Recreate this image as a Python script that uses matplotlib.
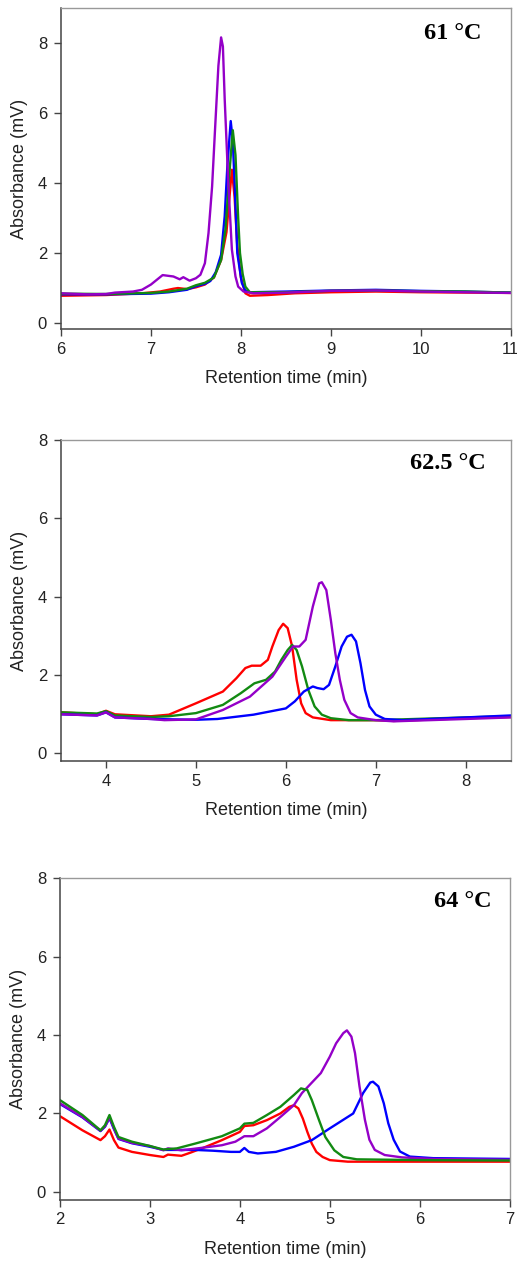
import matplotlib
matplotlib.use("Agg")
import matplotlib.pyplot as plt

# ---------------- Panel 1: 61 °C ----------------
p1_red_x = [6.0, 6.5, 6.9, 7.1, 7.25, 7.3, 7.4, 7.5, 7.6, 7.7, 7.78, 7.84, 7.88, 7.9, 7.93, 7.96, 8.0, 8.05, 8.1, 8.3, 8.6, 9.0, 9.5, 10.0, 10.5, 11.0]
p1_red_y = [0.78, 0.8, 0.85, 0.9, 0.98, 1.0, 0.97, 1.02, 1.1, 1.3, 1.8, 2.6, 3.8, 4.38, 3.6, 2.2, 1.3, 0.85, 0.78, 0.8, 0.85, 0.88, 0.9, 0.88, 0.87, 0.86]

p1_blue_x = [6.0, 6.5, 7.0, 7.2, 7.4, 7.5, 7.6, 7.66, 7.72, 7.78, 7.82, 7.85, 7.887, 7.91, 7.93, 7.96, 8.01, 8.05, 8.1, 8.5, 9.0, 9.5, 10.0, 10.5, 11.0]
p1_blue_y = [0.82, 0.82, 0.84, 0.88, 0.95, 1.05, 1.12, 1.2, 1.45, 1.95, 3.05, 4.5, 5.77, 5.2, 4.0, 2.0, 1.15, 0.92, 0.88, 0.9, 0.93, 0.95, 0.92, 0.9, 0.87]

p1_green_x = [6.0, 6.5, 7.0, 7.2, 7.4, 7.5, 7.6, 7.7, 7.78, 7.83, 7.87, 7.91, 7.94, 7.97, 7.99, 8.02, 8.05, 8.1, 8.5, 9.0, 9.5, 10.0, 10.5, 11.0]
p1_green_y = [0.84, 0.83, 0.86, 0.9, 0.98, 1.08, 1.15, 1.3, 1.8, 2.7, 4.2, 5.51, 4.8, 3.0, 2.0, 1.4, 1.04, 0.88, 0.88, 0.92, 0.93, 0.91, 0.9, 0.87]

p1_purple_x = [6.0, 6.3, 6.5, 6.6, 6.8, 6.9, 7.0, 7.13, 7.25, 7.32, 7.36, 7.43, 7.5, 7.55, 7.6, 7.64, 7.68, 7.71, 7.75, 7.78, 7.80, 7.82, 7.86, 7.9, 7.94, 7.97, 8.03, 8.14, 8.5, 9.0, 9.5, 10.0, 10.5, 11.0]
p1_purple_y = [0.85, 0.82, 0.83, 0.87, 0.9, 0.95, 1.1, 1.37, 1.33, 1.25, 1.31, 1.21, 1.28, 1.38, 1.71, 2.57, 3.9, 5.4, 7.35, 8.16, 7.9, 6.4, 4.0, 2.1, 1.33, 1.04, 0.9, 0.85, 0.87, 0.92, 0.93, 0.9, 0.88, 0.86]

# ---------------- Panel 2: 62.5 °C ----------------
p2_red_x = [3.5, 3.9, 4.0, 4.1, 4.5, 4.7, 5.0, 5.3, 5.45, 5.55, 5.62, 5.72, 5.8, 5.85, 5.92, 5.97, 6.02, 6.07, 6.12, 6.17, 6.22, 6.3, 6.5, 7.0, 7.2, 8.0, 8.5]
p2_red_y = [1.05, 1.0, 1.09, 1.0, 0.95, 0.99, 1.28, 1.58, 1.92, 2.18, 2.24, 2.24, 2.39, 2.73, 3.15, 3.31, 3.2, 2.73, 1.88, 1.28, 1.03, 0.92, 0.85, 0.85, 0.83, 0.9, 0.93]

p2_green_x = [3.5, 3.9, 4.0, 4.1, 4.5, 4.7, 5.0, 5.3, 5.5, 5.65, 5.78, 5.88, 5.95, 6.02, 6.07, 6.12, 6.18, 6.25, 6.32, 6.4, 6.5, 6.7, 7.0, 8.0, 8.5]
p2_green_y = [1.05, 1.02, 1.08, 0.97, 0.93, 0.95, 1.03, 1.24, 1.54, 1.79, 1.88, 2.09, 2.39, 2.64, 2.77, 2.64, 2.22, 1.62, 1.2, 0.99, 0.9, 0.85, 0.85, 0.92, 0.95]

p2_blue_x = [3.5, 3.9, 4.0, 4.1, 4.5, 5.0, 5.24, 5.64, 6.0, 6.1, 6.2, 6.3, 6.35, 6.42, 6.48, 6.55, 6.62, 6.68, 6.73, 6.78, 6.83, 6.88, 6.93, 7.0, 7.1, 7.3, 8.0, 8.5]
p2_blue_y = [1.0, 0.97, 1.05, 0.92, 0.88, 0.86, 0.88, 0.99, 1.15, 1.33, 1.58, 1.71, 1.67, 1.64, 1.75, 2.22, 2.73, 2.98, 3.03, 2.86, 2.3, 1.62, 1.2, 0.99, 0.88, 0.85, 0.92, 0.97]

p2_purple_x = [3.5, 3.9, 4.0, 4.1, 4.5, 4.65, 5.0, 5.3, 5.6, 5.85, 6.0, 6.08, 6.15, 6.22, 6.3, 6.37, 6.4, 6.45, 6.5, 6.55, 6.6, 6.65, 6.72, 6.8, 7.0, 7.2, 8.0, 8.5]
p2_purple_y = [1.0, 0.97, 1.05, 0.92, 0.88, 0.85, 0.87, 1.11, 1.45, 1.96, 2.47, 2.73, 2.73, 2.9, 3.75, 4.34, 4.37, 4.17, 3.41, 2.56, 1.88, 1.37, 1.03, 0.92, 0.85, 0.82, 0.88, 0.92]

# ---------------- Panel 3: 64 °C ----------------
p3_red_x = [2.0, 2.25, 2.45, 2.5, 2.55, 2.6, 2.65, 2.8, 3.0, 3.15, 3.2, 3.35, 3.45, 3.6, 3.8, 4.0, 4.05, 4.15, 4.3, 4.45, 4.55, 4.6, 4.65, 4.7, 4.75, 4.8, 4.85, 4.92, 5.0, 5.2, 6.0, 7.0]
p3_red_y = [1.93, 1.57, 1.32, 1.42, 1.59, 1.32, 1.13, 1.02, 0.94, 0.89, 0.95, 0.92, 1.0, 1.13, 1.32, 1.53, 1.68, 1.70, 1.83, 2.0, 2.17, 2.21, 2.13, 1.87, 1.53, 1.23, 1.02, 0.89, 0.81, 0.77, 0.77, 0.77]

p3_green_x = [2.0, 2.25, 2.45, 2.5, 2.55, 2.6, 2.65, 2.8, 3.0, 3.15, 3.3, 3.5, 3.8, 4.0, 4.05, 4.15, 4.3, 4.45, 4.6, 4.68, 4.75, 4.8, 4.88, 4.95, 5.05, 5.15, 5.3, 6.0, 7.0]
p3_green_y = [2.34, 1.96, 1.57, 1.70, 1.96, 1.66, 1.40, 1.28, 1.17, 1.08, 1.11, 1.23, 1.42, 1.62, 1.74, 1.76, 1.96, 2.17, 2.47, 2.64, 2.6, 2.34, 1.83, 1.40, 1.06, 0.89, 0.83, 0.81, 0.80]

p3_blue_x = [2.0, 2.25, 2.45, 2.5, 2.55, 2.6, 2.65, 2.8, 3.0, 3.15, 3.3, 3.5, 3.7, 3.9, 4.0, 4.05, 4.1, 4.2, 4.4, 4.6, 4.8, 5.0, 5.26, 5.37, 5.45, 5.48, 5.54, 5.6, 5.65, 5.71, 5.78, 5.89, 6.15, 7.0]
p3_blue_y = [2.24, 1.9, 1.55, 1.66, 1.88, 1.6, 1.35, 1.24, 1.15, 1.07, 1.07, 1.07, 1.05, 1.02, 1.02, 1.12, 1.02, 0.98, 1.02, 1.15, 1.32, 1.62, 2.0, 2.52, 2.79, 2.81, 2.69, 2.26, 1.75, 1.33, 1.03, 0.9, 0.86, 0.84]

p3_purple_x = [2.0, 2.25, 2.45, 2.5, 2.55, 2.6, 2.65, 2.8, 3.0, 3.15, 3.2, 3.35, 3.6, 3.8, 3.95, 4.05, 4.15, 4.3, 4.45, 4.6, 4.69, 4.9, 5.0, 5.07, 5.15, 5.19, 5.24, 5.28, 5.33, 5.39, 5.44, 5.5, 5.61, 5.8, 6.15, 7.0]
p3_purple_y = [2.26, 1.91, 1.56, 1.67, 1.9, 1.62, 1.36, 1.25, 1.17, 1.06, 1.11, 1.06, 1.13, 1.19, 1.28, 1.42, 1.42, 1.62, 1.91, 2.21, 2.52, 3.03, 3.45, 3.79, 4.05, 4.12, 3.96, 3.54, 2.69, 1.84, 1.33, 1.07, 0.94, 0.88, 0.84, 0.82]

titles = ["61 °C", "62.5 °C", "64 °C"]
xlims = [(6, 11), (3.5, 8.5), (2, 7)]
ylims = [(-0.17, 9.0), (-0.2, 8.0), (-0.2, 8.0)]
xticks = [[6, 7, 8, 9, 10, 11], [4, 5, 6, 7, 8], [2, 3, 4, 5, 6, 7]]
yticks = [0, 2, 4, 6, 8]

panels = [
    [(p1_red_x, p1_red_y), (p1_blue_x, p1_blue_y), (p1_green_x, p1_green_y), (p1_purple_x, p1_purple_y)],
    [(p2_red_x, p2_red_y), (p2_green_x, p2_green_y), (p2_blue_x, p2_blue_y), (p2_purple_x, p2_purple_y)],
    [(p3_red_x, p3_red_y), (p3_blue_x, p3_blue_y), (p3_purple_x, p3_purple_y), (p3_green_x, p3_green_y)],
]
RED, GREEN, BLUE, PURPLE = "#ff0000", "#128a12", "#0000ff", "#9400c8"
panel_colors = [
    [RED, BLUE, GREEN, PURPLE],
    [RED, GREEN, BLUE, PURPLE],
    [RED, BLUE, PURPLE, GREEN],
]

W, H = 517, 1261
fig = plt.figure(figsize=(W / 100, H / 100), dpi=100)
boxes = [(61, 8, 510.7, 329), (61, 440, 510.7, 761.3), (60, 878.3, 509.7, 1199.7)]
title_pos = [(0.934, 0.922), (0.944, 0.927), (0.96, 0.927)]

for i in range(3):
    l, t, r, b = boxes[i]
    ax = fig.add_axes([l / W, 1 - b / H, (r - l) / W, (b - t) / H])
    for (xs, ys), c in zip(panels[i], panel_colors[i]):
        ax.plot(xs, ys, color=c, lw=1.7, solid_joinstyle="round")
    ax.set_xlim(*xlims[i])
    ax.set_ylim(*ylims[i])
    ax.set_xticks(xticks[i])
    ax.set_yticks(yticks)
    for s in ["top", "right"]:
        ax.spines[s].set_color("#999999")
        ax.spines[s].set_linewidth(1.0)
    for s in ["left", "bottom"]:
        ax.spines[s].set_color("#444444")
        ax.spines[s].set_linewidth(1.1)
    ax.tick_params(direction="out", length=5, width=1.0, color="#444444",
                   labelsize=12, labelcolor="#222222", top=False, right=False)
    ax.tick_params(axis="x", pad=4)
    ax.tick_params(axis="y", pad=5)
    for lab in ax.get_xticklabels() + ax.get_yticklabels():
        lab.set_family("Liberation Sans")
    ax.set_xlabel("Retention time (min)", fontsize=13, family="Liberation Sans",
                  color="#222222")
    ax.set_ylabel("Absorbance (mV)", fontsize=13, family="Liberation Sans",
                  color="#222222")
    ax.xaxis.set_label_coords(0.5, -0.127)
    ax.yaxis.set_label_coords(-0.074, 0.5)
    tx, ty = title_pos[i]
    ax.text(tx, ty, titles[i], transform=ax.transAxes, ha="right", va="center",
            fontsize=17.5, fontweight="bold", family="Liberation Serif")

fig.savefig("out.png", dpi=100)
